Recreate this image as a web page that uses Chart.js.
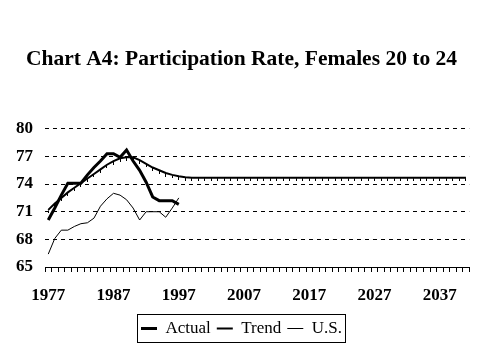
<!DOCTYPE html>
<html>
<head>
<meta charset="utf-8">
<script src="https://cdn.jsdelivr.net/npm/chart.js@4.4.1/dist/chart.umd.min.js"></script>
<style>
  html, body { margin: 0; padding: 0; background: #ffffff; }
  #wrap { width: 479px; height: 359px; }
</style>
</head>
<body>
<div id="wrap"><canvas id="c" width="479" height="359"></canvas></div>
<script>
const years = [
  1977,1978,1979,1980,1981,1982,1983,1984,1985,1986,
  1987,1988,1989,1990,1991,1992,1993,1994,1995,1996,
  1997,1998,1999,2000,2001,2002,2003,2004,2005,2006,
  2007,2008,2009,2010,2011,2012,2013,2014,2015,2016,
  2017,2018,2019,2020,2021,2022,2023,2024,2025,2026,
  2027,2028,2029,2030,2031,2032,2033,2034,2035,2036,
  2037,2038,2039,2040,2041
];
const actual = [
  70.1,71.4,72.8,74.1,74.1,74.1,75.0,75.8,76.5,77.3,
  77.3,76.9,77.7,76.5,75.5,74.2,72.6,72.2,72.2,72.2,
  71.8
];
const trend = [
  71.2,71.9,72.5,73.1,73.6,74.1,74.6,75.1,75.6,76.1,
  76.5,76.8,76.9,76.9,76.6,76.2,75.8,75.5,75.2,75.0,
  74.85,74.75,74.7,74.7,74.7,74.7,74.7,74.7,74.7,74.7,
  74.7,74.7,74.7,74.7,74.7,74.7,74.7,74.7,74.7,74.7,
  74.7,74.7,74.7,74.7,74.7,74.7,74.7,74.7,74.7,74.7,
  74.7,74.7,74.7,74.7,74.7,74.7,74.7,74.7,74.7,74.7,
  74.7,74.7,74.7,74.7,74.7
];
const us = [
  66.4,68.1,69.0,69.0,69.4,69.7,69.8,70.3,71.6,72.4,
  73.0,72.8,72.3,71.4,70.1,71.0,71.0,71.0,70.4,71.4,
  72.5
];
const yTicks = [65, 68, 71, 74, 77, 80];

const SERIF = "'Liberation Serif', 'Times New Roman', serif";

// small tick marker that hangs below each trend point
const tickMark = document.createElement('canvas');
tickMark.width = 1;
tickMark.height = 7;
(function () {
  const g = tickMark.getContext('2d');
  g.fillStyle = '#000';
  g.fillRect(0, 4, 1, 3);
})();

const legendBox = {
  id: 'legendBox',
  afterDraw(chart) {
    const boxes = chart.legend && chart.legend.legendHitBoxes;
    if (!boxes || !boxes.length) return;
    let l = Infinity, r = -Infinity, t = Infinity, b = -Infinity;
    boxes.forEach(h => {
      l = Math.min(l, h.left); r = Math.max(r, h.left + h.width);
      t = Math.min(t, h.top); b = Math.max(b, h.top + h.height);
    });
    const ctx = chart.ctx;
    ctx.save();
    ctx.strokeStyle = '#000';
    ctx.lineWidth = 1;
    ctx.strokeRect(Math.round(l - 4) + 0.5, Math.round(t - 6) + 0.5, Math.round(r - l + 7), Math.round(b - t + 11));
    ctx.restore();
  }
};

new Chart(document.getElementById('c'), {
  type: 'line',
  data: {
    labels: years,
    datasets: [
      {
        label: 'Actual',
        data: actual,
        borderColor: '#000',
        backgroundColor: '#000',
        borderWidth: 3,
        pointRadius: 0,
        pointStyle: 'line',
        tension: 0
      },
      {
        label: 'Trend',
        data: trend,
        borderColor: '#000',
        backgroundColor: '#000',
        borderWidth: 2,
        pointRadius: 3,
        pointStyle: tickMark,
        pointHoverRadius: 3,
        tension: 0
      },
      {
        label: 'U.S.',
        data: us,
        borderColor: '#000',
        backgroundColor: '#000',
        borderWidth: 1,
        pointRadius: 0,
        pointStyle: 'line',
        tension: 0
      }
    ]
  },
  options: {
    responsive: false,
    animation: false,
    devicePixelRatio: 1,
    layout: { padding: { top: 47, left: 4, right: 0, bottom: 12 } },
    plugins: {
      title: {
        display: true,
        text: 'Chart A4: Participation Rate, Females 20 to 24',
        color: '#000',
        font: { family: SERIF, size: 21.5, weight: 'bold' },
        padding: { top: 0, bottom: 56 }
      },
      legend: {
        display: true,
        position: 'bottom',
        labels: {
          color: '#000',
          font: { family: SERIF, size: 17 },
          usePointStyle: true,
          pointStyleWidth: 16,
          boxHeight: 17,
          padding: 6,
          generateLabels(chart) {
            return chart.data.datasets.map((ds, i) => ({
              text: ds.label,
              fillStyle: '#000',
              strokeStyle: '#000',
              lineWidth: i === 0 ? 3 : (i === 1 ? 2 : 1),
              pointStyle: 'line',
              hidden: false,
              datasetIndex: i,
              fontColor: '#000'
            }));
          }
        }
      },
      tooltip: { enabled: false }
    },
    scales: {
      x: {
        type: 'category',
        offset: true,
        afterFit(scale) { scale.height = 47; },
        grid: {
          display: true,
          offset: true,
          drawOnChartArea: false,
          drawTicks: true,
          tickLength: 5,
          color: '#000',
          lineWidth: 1
        },
        border: { display: true, color: '#000', width: 1 },
        ticks: {
          autoSkip: false,
          maxRotation: 0,
          minRotation: 0,
          padding: 13,
          color: '#000',
          font: { family: SERIF, size: 17, weight: 'bold' },
          callback: function(v, i) { return i % 10 === 0 ? this.getLabelForValue(v) : ''; }
        }
      },
      y: {
        min: 65,
        max: 80,
        afterBuildTicks(scale) { scale.ticks = yTicks.map(v => ({ value: v })); },
        afterFit(scale) { scale.width = 41; },
        grid: {
          color: (ctx) => ctx.tick && ctx.tick.value === 65 ? 'rgba(0,0,0,0)' : '#000',
          lineWidth: 1,
          drawTicks: false,
          tickLength: 0
        },
        border: { display: false, dash: [4, 4] },
        ticks: {
          padding: 12,
          color: '#000',
          font: { family: SERIF, size: 17, weight: 'bold' }
        }
      },
      yRight: {
        position: 'right',
        display: true,
        min: 65,
        max: 80,
        afterFit(scale) { scale.width = 9; },
        grid: { display: false, drawTicks: false },
        border: { display: false },
        ticks: { display: false }
      }
    }
  },
  plugins: [legendBox]
});
</script>
</body>
</html>
